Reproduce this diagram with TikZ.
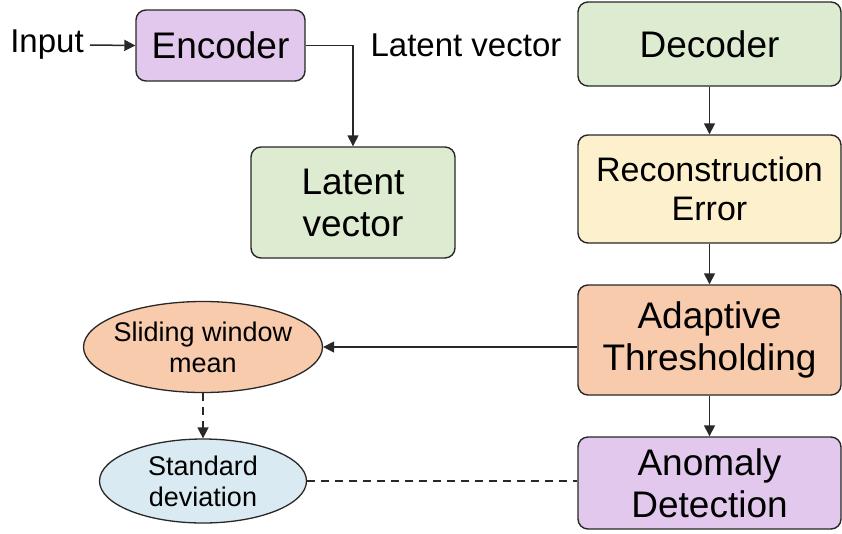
\documentclass[tikz,border=0pt]{standalone}
\usepackage{fontspec}
\setmainfont{Liberation Sans}
\usetikzlibrary{arrows.meta,shapes.geometric}

\definecolor{boxpurple}{RGB}{225,200,236}
\definecolor{boxgreen}{RGB}{221,235,208}
\definecolor{boxyellow}{RGB}{253,240,204}
\definecolor{boxpeach}{RGB}{249,203,173}
\definecolor{boxblue}{RGB}{217,234,242}
\definecolor{edge}{RGB}{40,40,40}

\tikzset{
  stagebox/.style={draw=edge, line width=1.4pt, rounded corners=10pt,
    inner sep=0pt, align=center, font=\fontsize{37}{42}\selectfont},
  ovalbox/.style={ellipse, draw=edge, line width=1.3pt,
    inner xsep=-20pt, inner ysep=-12pt,
    align=center, font=\fontsize{27}{31}\selectfont},
  plainlabel/.style={inner sep=0pt, font=\fontsize{33}{38}\selectfont},
  tip/.style={-{Triangle[length=11pt,width=11pt]}},
  flow/.style={draw=edge, line width=1.5pt, tip},
  dashflow/.style={draw=edge, line width=1.5pt, dash pattern=on 8pt off 6pt},
}

\begin{document}
\begin{tikzpicture}[x=1pt,y=-1pt]
  \clip (0,0) rectangle (842,533);
  \fill[white] (0,0) rectangle (842,533);

  % encoder side
  \node[plainlabel] (input) at (47,45) {Input};
  \node[stagebox, fill=boxpurple, minimum width=169pt, minimum height=71pt]
    (enc) at (220.5,45.5) {Encoder};
  \node[stagebox, fill=boxgreen, minimum width=204pt, minimum height=111pt]
    (lat) at (353,202.5) {Latent\\vector};
  \node[plainlabel] (latlabel) at (466,45) {Latent vector};

  % decoder pipeline
  \node[stagebox, fill=boxgreen, minimum width=263pt, minimum height=84pt]
    (dec) at (709.5,44) {Decoder};
  \node[stagebox, fill=boxyellow, minimum width=263pt, minimum height=108pt,
    font=\fontsize{34}{39}\selectfont]
    (rec) at (709.5,189) {Reconstruction\\Error};
  \node[stagebox, fill=boxpeach, minimum width=263pt, minimum height=110pt]
    (thr) at (709.5,340) {Adaptive\\Thresholding};
  \node[stagebox, fill=boxpurple, minimum width=263pt, minimum height=92pt]
    (ano) at (709.5,483) {Anomaly\\Detection};

  % statistics
  \node[ovalbox, fill=boxpeach, minimum width=239pt, minimum height=91pt]
    (swm) at (203,347) {Sliding window\\mean};
  \node[ovalbox, fill=boxblue, minimum width=207pt, minimum height=84pt]
    (std) at (203,481) {Standard\\deviation};

  % connectors
  \draw[flow] (input.east) ++(6pt,0) coordinate (inA) -- (enc.west);
  \draw[flow] (enc.east) -| (lat.north);
  \draw[flow] (dec.south) -- (rec.north);
  \draw[flow] (rec.south) -- (thr.north);
  \draw[flow] (thr.south) -- (ano.north);
  \draw[flow] (thr.west |- swm.east) -- (swm.east);
  \draw[dashflow, tip] (swm.south) -- (std.north);
  \draw[dashflow] (std.east) -- (ano.west |- std.east);
\end{tikzpicture}
\end{document}
